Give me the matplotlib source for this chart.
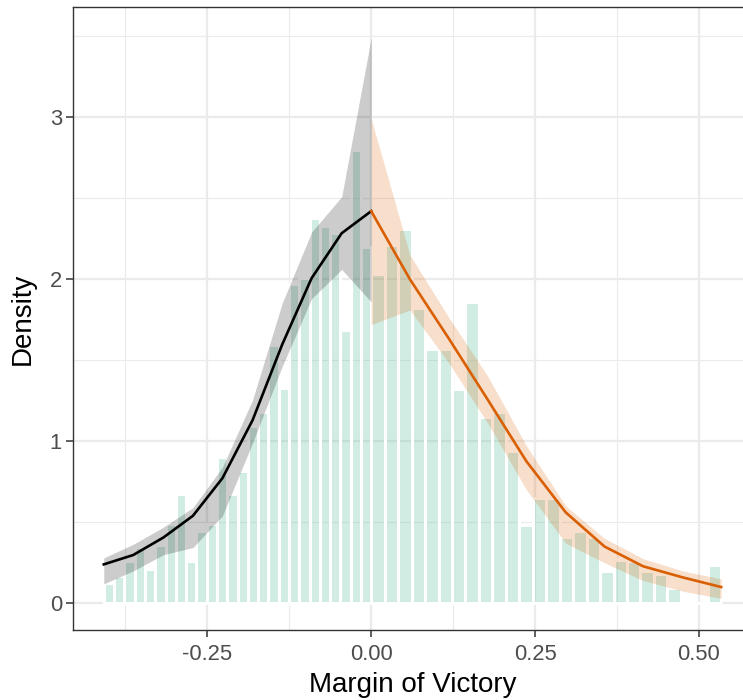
import numpy as np
import matplotlib
matplotlib.use("Agg")
import matplotlib.pyplot as plt

plt.rcParams['font.family'] = ['Liberation Sans', 'DejaVu Sans']

# histogram densities, 26 bins each side of the cutoff
left_range = (-0.408, 0.0)
right_range = (0.0, 0.534)
left_density = [0.126, 0.167, 0.26, 0.35, 0.21, 0.36, 0.49, 0.675, 0.26, 0.445,
                0.49, 0.905, 0.675, 0.815, 1.095, 1.18, 1.595, 1.33, 1.97, 2.01,
                2.38, 2.33, 2.285, 1.685, 2.80, 2.20]
right_density = [2.03, 2.21, 2.31, 1.82, 1.57, 1.57, 1.32, 1.86, 1.15, 1.18,
                 0.94, 0.48, 0.65, 0.65, 0.41, 0.445, 0.41, 0.20, 0.27, 0.26,
                 0.20, 0.18, 0.095, 0.02, 0.0, 0.234]

# local fits with confidence band
x_left = [-0.408, -0.363, -0.317, -0.272, -0.227, -0.181, -0.136, -0.091, -0.045, 0.0]
fit_left = [0.24, 0.298, 0.406, 0.54, 0.772, 1.13, 1.595, 2.006, 2.284, 2.42]
lo_left = [0.12, 0.20, 0.30, 0.344, 0.54, 0.99, 1.46, 1.88, 2.06, 1.86]
hi_left = [0.28, 0.364, 0.47, 0.59, 0.84, 1.255, 1.85, 2.29, 2.51, 3.49]

x_right = [0.0, 0.059, 0.119, 0.178, 0.237, 0.297, 0.356, 0.415, 0.475, 0.534]
fit_right = [2.42, 2.0, 1.63, 1.255, 0.875, 0.56, 0.35, 0.228, 0.16, 0.10]
lo_right = [1.72, 1.81, 1.48, 1.11, 0.70, 0.37, 0.25, 0.14, 0.075, 0.03]
hi_right = [2.99, 2.15, 1.76, 1.40, 0.97, 0.60, 0.40, 0.275, 0.20, 0.15]

xticks = [-0.25, 0.0, 0.25, 0.5]
xticklabels = ['-0.25', '0.00', '0.25', '0.50']
yticks = [0, 1, 2, 3]

fig = plt.figure(figsize=(7.43, 7.0), dpi=100)
ax = fig.add_axes([73/743., 0.1, 679/743., 0.89])

bar_fill = (0.4, 0.761, 0.647, 0.3)  # #66c2a5 at alpha .3
for rng, dens in ((left_range, left_density), (right_range, right_density)):
    edges = np.linspace(rng[0], rng[1], len(dens) + 1)
    ax.bar(edges[:-1], dens, width=np.diff(edges), align='edge',
           color=bar_fill, edgecolor='white', linewidth=2.2, zorder=2)

ax.fill_between(x_left, lo_left, hi_left, color='black', alpha=0.2, linewidth=0, zorder=3)
ax.fill_between(x_right, lo_right, hi_right, color='#d95f02', alpha=0.2, linewidth=0, zorder=3)
ax.plot(x_left, fit_left, color='black', lw=1.9, zorder=4)
ax.plot(x_right, fit_right, color='#d95f02', lw=1.9, zorder=4)

ax.set_xlim(-0.455, 0.581)
ax.set_ylim(-0.165, 3.68)
ax.set_xticks(xticks)
ax.set_xticklabels(xticklabels)
ax.set_yticks(yticks)
ax.set_xticks([-0.375, -0.125, 0.125, 0.375], minor=True)
ax.set_yticks([0.5, 1.5, 2.5, 3.5], minor=True)

ax.set_axisbelow(True)
ax.grid(which='major', color='#ebebeb', lw=1.6)
ax.grid(which='minor', color='#ebebeb', lw=0.8)
ax.tick_params(which='minor', length=0)
ax.tick_params(which='major', length=5, width=1.1, color='#333333',
               labelsize=15.8, labelcolor='#4d4d4d', pad=3)
ax.tick_params(axis='x', pad=5)
for s in ax.spines.values():
    s.set_color('#333333')
    s.set_linewidth(1.0)

ax.set_xlabel('Margin of Victory', fontsize=20, labelpad=5)
ax.set_ylabel('Density', fontsize=20, labelpad=10)

fig.savefig('out.png', dpi=100)
